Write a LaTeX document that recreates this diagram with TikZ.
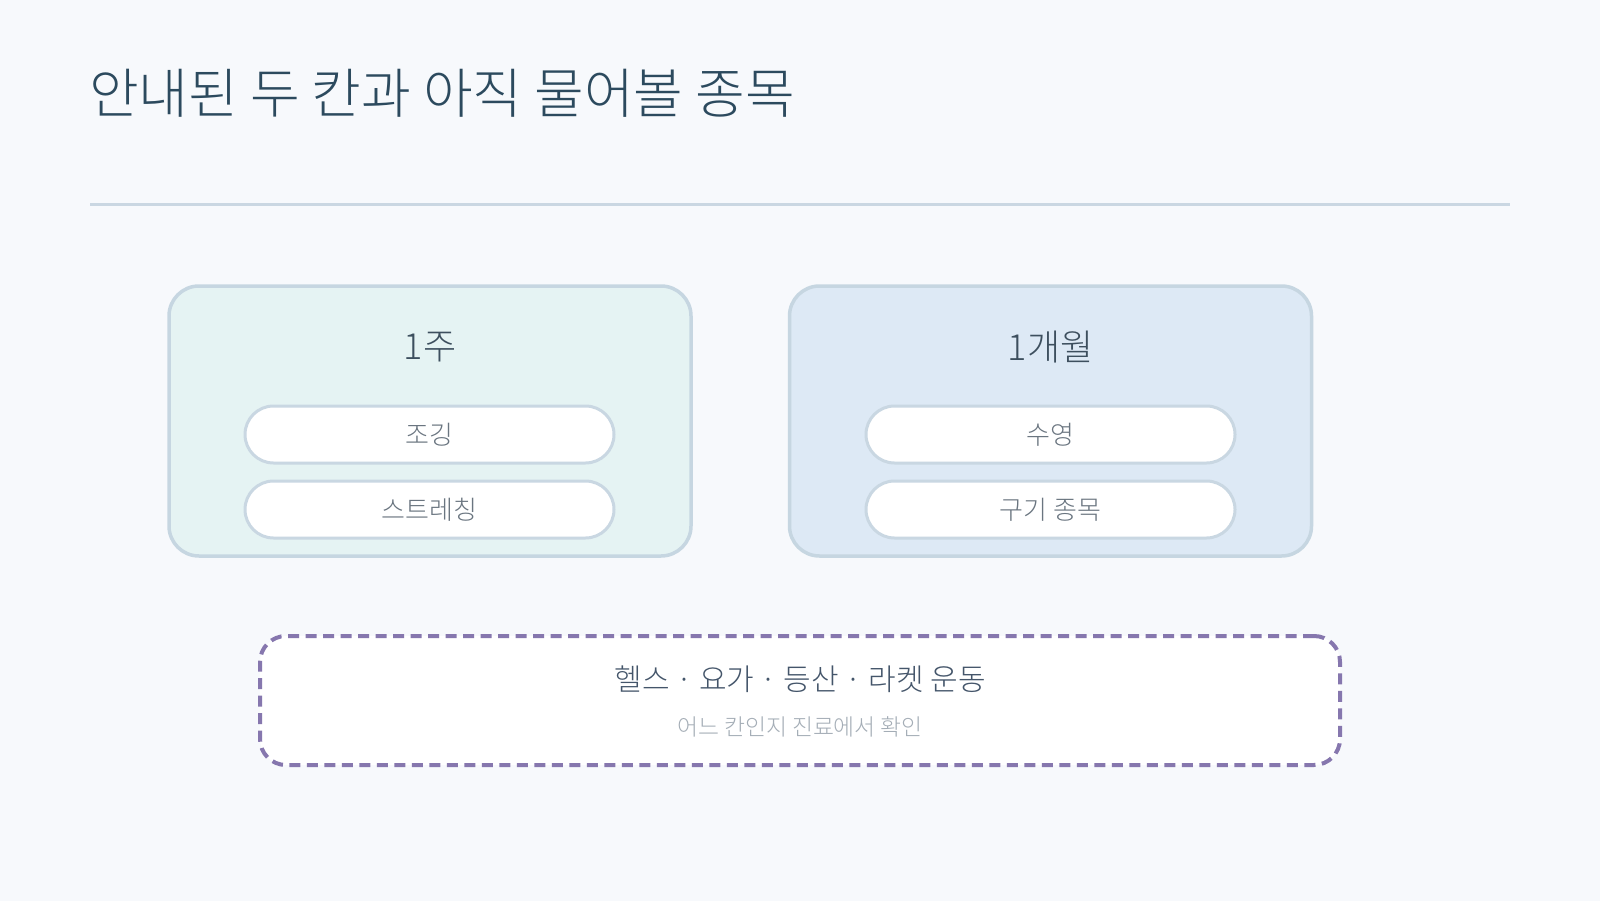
\documentclass[tikz,border=0pt]{standalone}
\usepackage{fontspec}
\IfFontExistsTF{Noto Sans CJK KR Light}{\setmainfont{Noto Sans CJK KR Light}}{\setmainfont{Noto Sans CJK KR}}
\definecolor{bgc}{HTML}{F7F9FC}
\definecolor{titlec}{HTML}{2C4A5E}
\definecolor{rulec}{HTML}{CAD7E2}
\definecolor{leftfill}{HTML}{E5F3F3}
\definecolor{rightfill}{HTML}{DDE9F5}
\definecolor{boxline}{HTML}{C6D6E1}
\definecolor{pillline}{HTML}{C9D7E2}
\definecolor{pilltext}{HTML}{6A7580}
\definecolor{headc}{HTML}{3D4F5E}
\definecolor{dashc}{HTML}{8677AE}
\definecolor{maintext}{HTML}{44556A}
\definecolor{subtext}{HTML}{A4ADB6}
\tikzset{
  groupbox/.style={draw=boxline, line width=3.5pt, rounded corners=30pt,
    minimum width=522pt, minimum height=270pt, inner sep=0pt},
  pill/.style={draw=pillline, fill=white, line width=3pt, rounded corners=28.5pt,
    minimum width=369pt, minimum height=57pt, inner sep=0pt,
    text=pilltext, font=\fontsize{26}{31}\selectfont},
  headtext/.style={text=headc, font=\fontsize{36}{43}\selectfont, inner sep=0pt},
  askbox/.style={draw=dashc, fill=white, line width=4pt, rounded corners=26pt,
    dash pattern=on 11pt off 6.5pt, minimum width=1080pt, minimum height=129pt, inner sep=0pt},
}
\begin{document}
\begin{tikzpicture}[x=1pt,y=-1pt]
\fill[bgc] (0,0) rectangle (1600,901);
\useasboundingbox (0,0) rectangle (1600,901);
\node[anchor=base west, text=titlec, font=\fontsize{54}{64}\selectfont, inner sep=0pt] (title) at (89,114) {안내된 두 칸과 아직 물어볼 종목};
\coordinate (ruleL) at (90,205);
\coordinate (ruleR) at (1510,205);
\draw[rulec, line width=3pt] (ruleL) -- (ruleR);
\node[groupbox, fill=leftfill] (week) at (430,421) {};
\node[groupbox, fill=rightfill] (month) at (1050.5,421) {};
\node[headtext] (weekh) at (430,347) {1주};
\node[headtext] (monthh) at (1050.5,347) {1개월};
\node[pill] (jog) at (429.5,434.5) {조깅};
\node[pill] (stretch) at (429.5,509.5) {스트레칭};
\node[pill] (swim) at (1050.5,434.5) {수영};
\node[pill] (ball) at (1050.5,509.5) {구기 종목};
\node[askbox] (ask) at (800,700.5) {};
\node[text=maintext, font=\fontsize{30}{36}\selectfont, inner sep=0pt] (asklist) at (800,679) {헬스 · 요가 · 등산 · 라켓 운동};
\node[text=subtext, font=\fontsize{22.8}{27}\selectfont, inner sep=0pt] (asknote) at (800,727) {어느 칸인지 진료에서 확인};
\end{tikzpicture}
\end{document}
